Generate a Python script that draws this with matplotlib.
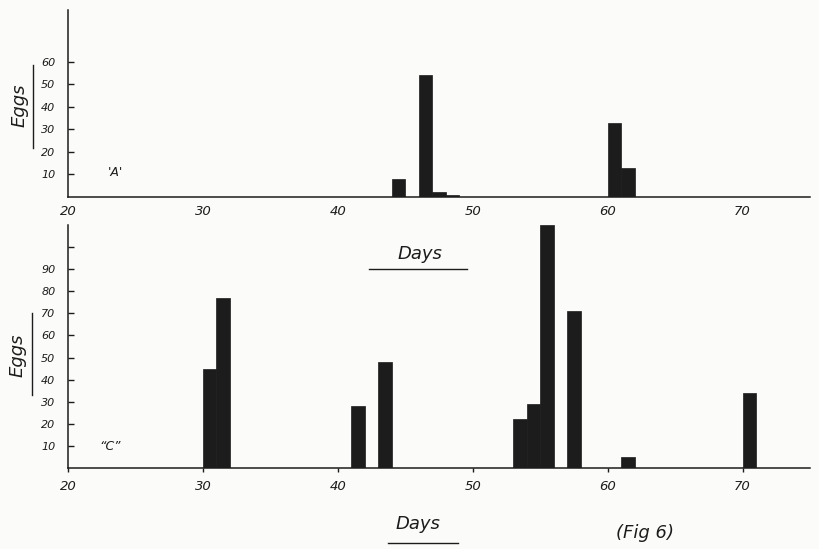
import matplotlib
matplotlib.use("Agg")
import matplotlib.pyplot as plt
from matplotlib.lines import Line2D

# ---- data ----
days_a = [44, 46, 47, 48, 60, 61]
eggs_a = [8, 54, 2, 1, 33, 13]

days_c = [30, 31, 41, 43, 53, 54, 55, 57, 61, 70]
eggs_c = [45, 77, 28, 48, 22, 29, 110, 71, 5, 34]

x_ticks = [20, 30, 40, 50, 60, 70]
y_ticks_a = [10, 20, 30, 40, 50, 60]
y_ticks_c = [10, 20, 30, 40, 50, 60, 70, 80, 90, 100]
y_labels_c = ["10", "20", "30", "40", "50", "60", "70", "80", "90", ""]

W, H = 819, 549
BG = "#fbfbfa"
INK = "#1c1c1c"

fig = plt.figure(figsize=(W / 100, H / 100), dpi=100, facecolor=BG)


def px_axes(left, right, bottom, top):
    return fig.add_axes([left / W, 1 - bottom / H, (right - left) / W, (bottom - top) / H])


def ftext(x, y, s, **kw):
    fig.text(x / W, 1 - y / H, s, **kw)


def fline(x0, y0, x1, y1, lw=1.0):
    fig.add_artist(Line2D([x0 / W, x1 / W], [1 - y0 / H, 1 - y1 / H],
                          transform=fig.transFigure, color=INK, lw=lw))


font = dict(family="DejaVu Sans", style="italic", color=INK)


def style_axes(ax, ylim, yticks, ylabels, xtick_len):
    ax.set_facecolor("none")
    ax.set_xlim(20, 75)
    ax.set_ylim(*ylim)
    for s in ["top", "right"]:
        ax.spines[s].set_visible(False)
    for s in ["left", "bottom"]:
        ax.spines[s].set_linewidth(1.1)
        ax.spines[s].set_color(INK)
    ax.set_yticks(yticks)
    ax.set_yticklabels(ylabels, fontsize=8, fontstyle="italic", color=INK)
    ax.set_xticks(x_ticks)
    ax.set_xticklabels([str(t) for t in x_ticks], fontsize=9.5, fontstyle="italic", color=INK)
    ax.tick_params(axis="y", direction="in", length=4, width=1, pad=9, colors=INK)
    ax.tick_params(axis="x", direction="out", length=xtick_len, width=1, pad=6, colors=INK)


# top panel "A"
ax1 = px_axes(68, 810, 197, 10)
ax1.bar(days_a, eggs_a, width=1.0, align="edge", color=INK, edgecolor=INK, linewidth=0.5)
style_axes(ax1, (0, 83), y_ticks_a, [str(t) for t in y_ticks_a], 0)

# bottom panel "C"
ax2 = px_axes(68, 810, 468, 225)
ax2.bar(days_c, eggs_c, width=1.0, align="edge", color=INK, edgecolor=INK, linewidth=0.5)
style_axes(ax2, (0, 110), y_ticks_c, y_labels_c, 3)

# panel markers
ftext(115, 172, "'A'", fontsize=9, ha="center", va="center", **font)
ftext(110, 447, "\u201cC\u201d", fontsize=9, ha="center", va="center", **font)

# Eggs labels with underline
ftext(20, 105, "Eggs", fontsize=13, rotation=90, ha="center", va="center", **font)
fline(33, 65, 33, 148)
ftext(18, 355, "Eggs", fontsize=13, rotation=90, ha="center", va="center", **font)
fline(32, 313, 32, 395)

# Days labels with underline
ftext(420, 254, "Days", fontsize=13, ha="center", va="center", **font)
fline(369, 269, 467, 269)
ftext(418, 524, "Days", fontsize=13, ha="center", va="center", **font)
fline(388, 543, 458, 543)

ftext(645, 533, "(Fig 6)", fontsize=13, ha="center", va="center", **font)

fig.savefig("out.png", dpi=100, facecolor=BG)
